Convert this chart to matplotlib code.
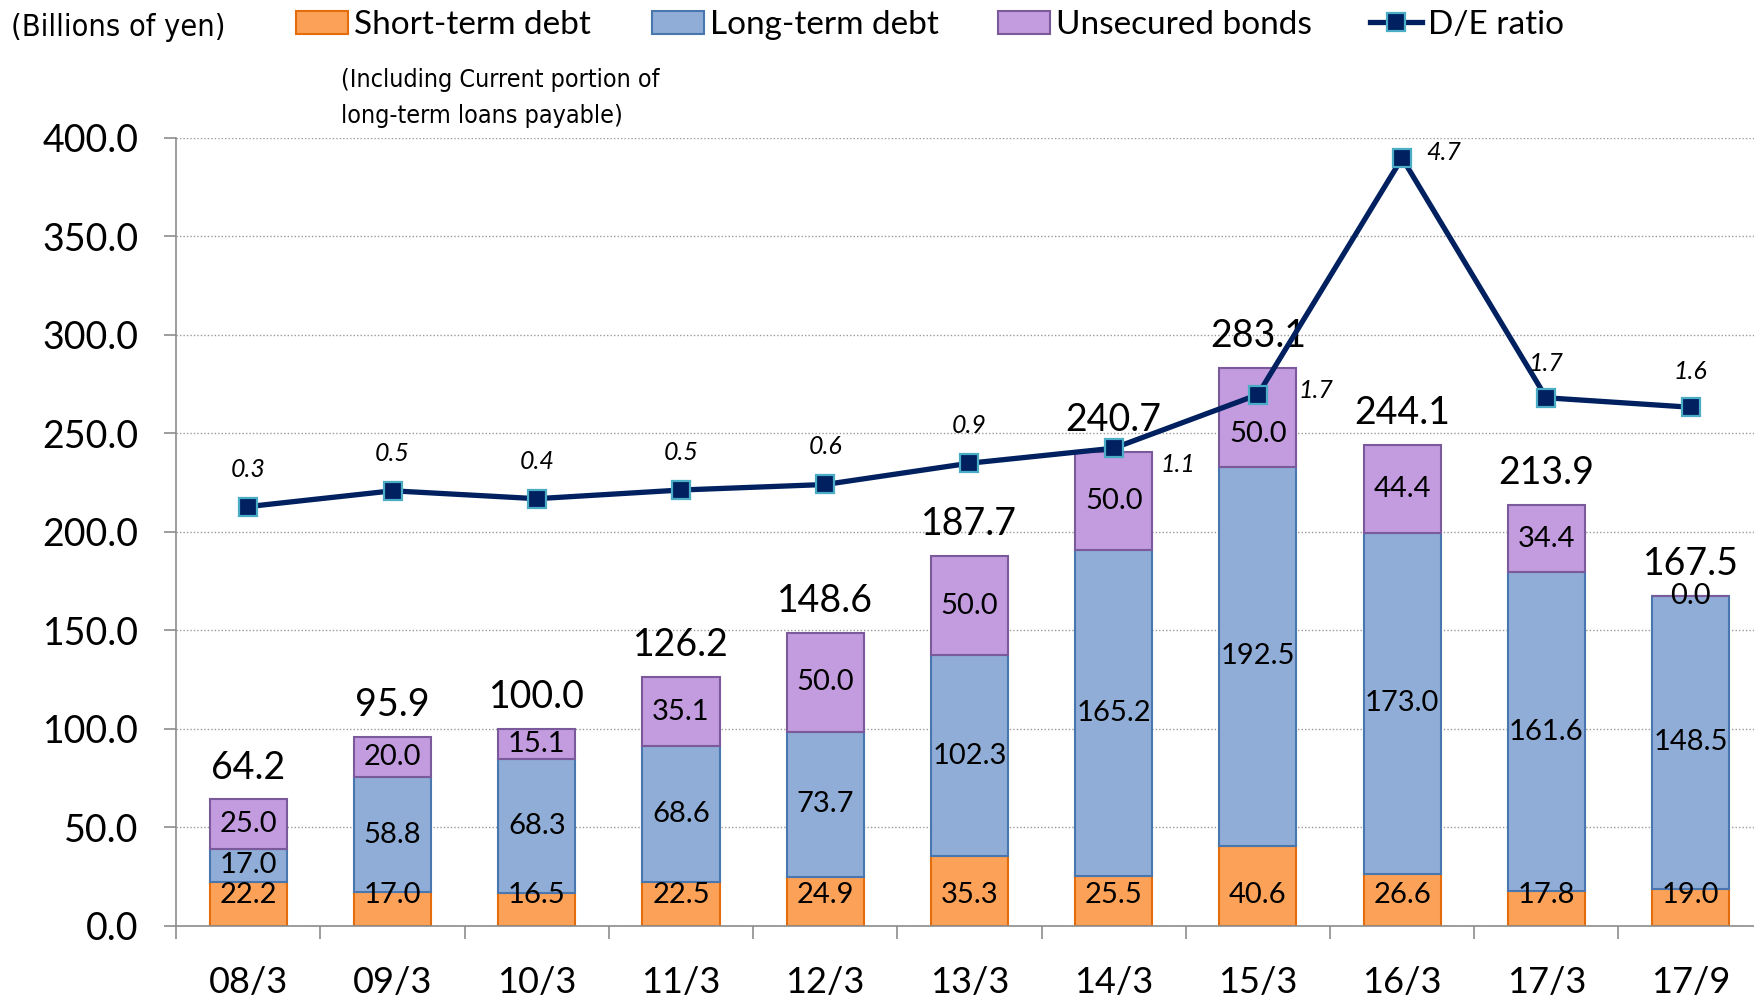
import matplotlib
matplotlib.use('Agg')
import matplotlib.pyplot as plt
from matplotlib.patches import Patch
from matplotlib.lines import Line2D

periods = ['08/3', '09/3', '10/3', '11/3', '12/3', '13/3', '14/3', '15/3', '16/3', '17/3', '17/9']
short_term = [22.2, 17.0, 16.5, 22.5, 24.9, 35.3, 25.5, 40.6, 26.6, 17.8, 19.0]
long_term = [17.0, 58.8, 68.3, 68.6, 73.7, 102.3, 165.2, 192.5, 173.0, 161.6, 148.5]
bonds = [25.0, 20.0, 15.1, 35.1, 50.0, 50.0, 50.0, 50.0, 44.4, 34.4, 0.0]
totals = [64.2, 95.9, 100.0, 126.2, 148.6, 187.7, 240.7, 283.1, 244.1, 213.9, 167.5]
de_ratio = [0.32, 0.52, 0.42, 0.53, 0.60, 0.87, 1.06, 1.74, 4.74, 1.70, 1.58]

plt.rcParams['font.family'] = ['Lato', 'DejaVu Sans']

c_short, e_short = '#FCA258', '#E46C0A'
c_long, e_long = '#8FADD6', '#4A76B0'
c_bond, e_bond = '#C39BDF', '#7A5A9A'
c_line, c_mark = '#002060', '#4BACC6'

fig = plt.figure(figsize=(17.54, 9.98), dpi=100)
ax = fig.add_axes([176.2 / 1754, 1 - 926 / 998, 1 - 176.2 / 1754, (926 - 137.6) / 998])

x = list(range(len(periods)))
w = 0.535
base2 = [a + b for a, b in zip(short_term, long_term)]
ax.bar(x, short_term, w, color=c_short, edgecolor=e_short, linewidth=1.5, zorder=2)
ax.bar(x, long_term, w, bottom=short_term, color=c_long, edgecolor=e_long, linewidth=1.5, zorder=2)
ax.bar(x, bonds, w, bottom=base2, color=c_bond, edgecolor=e_bond, linewidth=1.5, zorder=2)

# short-term labels sit near the base of the bar
for i in x:
    ax.annotate(f'{short_term[i]:.1f}', (i, 0), xytext=(0, 22), textcoords='offset points',
                ha='center', va='center', fontsize=21, zorder=5)
    ax.text(i, short_term[i] + long_term[i] / 2, f'{long_term[i]:.1f}',
            ha='center', va='center', fontsize=21, zorder=5)
    nudge = -12 if i == 7 else 0
    ax.annotate(f'{bonds[i]:.1f}', (i, base2[i] + bonds[i] / 2), xytext=(0, nudge),
                textcoords='offset points', ha='center', va='center', fontsize=21, zorder=5)
    top = base2[i] + bonds[i]
    ax.annotate(f'{totals[i]:.1f}', (i, top), xytext=(0, 10), textcoords='offset points',
                ha='center', va='bottom', fontsize=27, zorder=5)

ax.set_xlim(-0.5, 10.44)
ax.set_ylim(0, 400)
ax.set_yticks(range(0, 401, 50))
ax.set_yticklabels([f'{v:.1f}' for v in range(0, 401, 50)])
ax.set_xticks(x)
ax.set_xticklabels(periods)
ax.set_xticks([i - 0.5 for i in x], minor=True)
ax.tick_params(axis='x', which='major', length=0, pad=29, labelsize=26)
ax.tick_params(axis='x', which='minor', length=9, width=1.2, color='#8c8c8c')
ax.tick_params(axis='y', length=9, width=1.2, color='#8c8c8c', pad=18, labelsize=27)
ax.grid(axis='y', linestyle=(0, (1, 1.5)), color='#9a9a9a', linewidth=1)
ax.set_axisbelow(True)
for s in ['top', 'right']:
    ax.spines[s].set_visible(False)
for s in ['left', 'bottom']:
    ax.spines[s].set_color('#8c8c8c')
    ax.spines[s].set_linewidth(1.2)
    ax.spines[s].set_zorder(3)

ax2 = ax.twinx()
ax2.set_ylim(-5, 5)
ax2.axis('off')
ax2.plot(x, de_ratio, color=c_line, linewidth=3.8, marker='s', markersize=13,
         markerfacecolor=c_line, markeredgecolor=c_mark, markeredgewidth=1.6, zorder=6)

label_offsets = [(0, 27), (0, 27), (0, 27), (0, 27), (0, 27), (0, 27),
                 (46, -12), (42, 3), (30, 4), (0, 25), (0, 26)]
for i in x:
    ax2.annotate(f'{de_ratio[i]:.1f}', (i, de_ratio[i]), xytext=label_offsets[i],
                 textcoords='offset points', ha='center', va='center',
                 fontsize=18, style='italic', zorder=7)

narrow = dict(family='DejaVu Sans', fontstretch='condensed')
fig.text(11 / 1754, 1 - 27 / 998, '(Billions of yen)', fontsize=22, va='center', **narrow)
fig.text(341 / 1754, 1 - 80 / 998, '(Including Current portion of', fontsize=18, va='center', **narrow)
fig.text(341 / 1754, 1 - 116 / 998, 'long-term loans payable)', fontsize=18, va='center', **narrow)

handles = [
    (Patch(facecolor=c_short, edgecolor=e_short, linewidth=1.5), 'Short-term debt', 296),
    (Patch(facecolor=c_long, edgecolor=e_long, linewidth=1.5), 'Long-term debt', 652),
    (Patch(facecolor=c_bond, edgecolor=e_bond, linewidth=1.5), 'Unsecured bonds', 998),
    (Line2D([], [], color=c_line, linewidth=3.8, marker='s', markersize=13, markerfacecolor=c_line,
            markeredgecolor=c_mark, markeredgewidth=1.6), 'D/E ratio', 1370),
]
for h, lab, px in handles:
    fig.legend([h], [lab], loc='center left', bbox_to_anchor=(px / 1754, 1 - 25 / 998),
               frameon=False, borderpad=0, borderaxespad=0, handlelength=1.55,
               handleheight=0.7, handletextpad=0.2, fontsize=24)

fig.savefig('out.png', dpi=100)
